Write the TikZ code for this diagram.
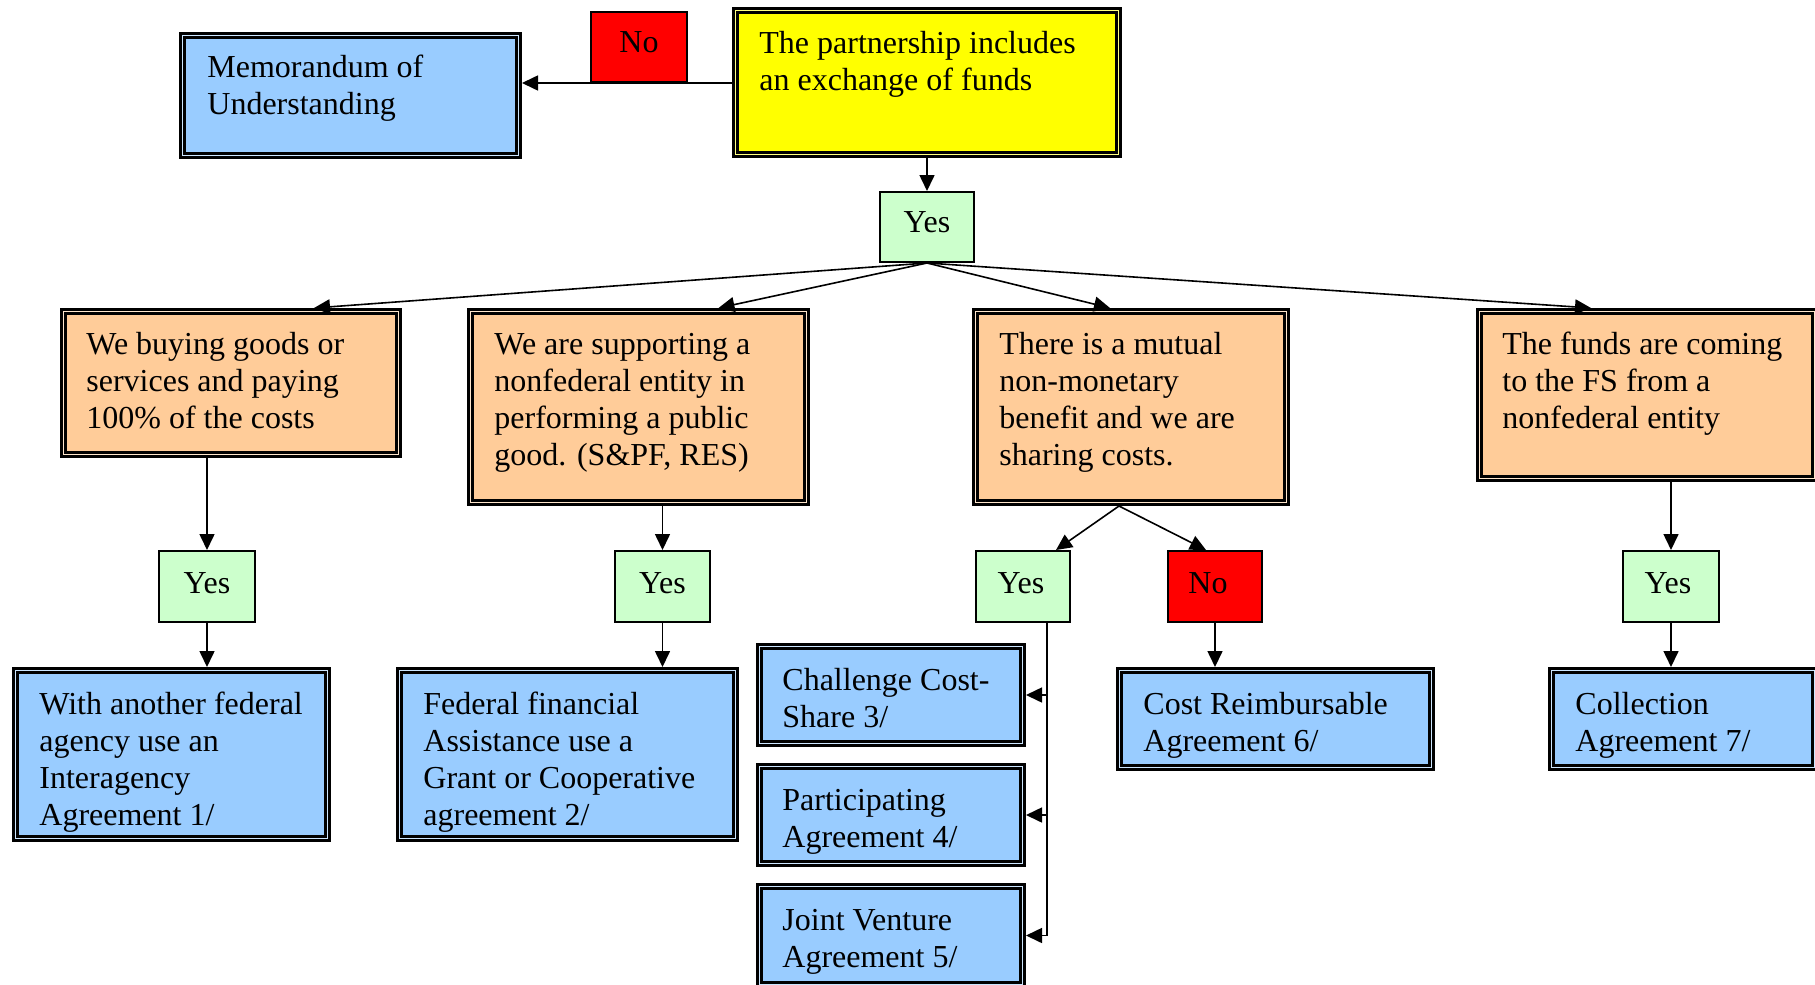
\documentclass[tikz,border=0pt]{standalone}
\usepackage{fontspec}
\setmainfont{Liberation Serif}
\usetikzlibrary{arrows.meta}
\definecolor{cyel}{HTML}{FFFF00}
\definecolor{cora}{HTML}{FFCC99}
\definecolor{cblu}{HTML}{99CCFF}
\definecolor{cgrn}{HTML}{CCFFCC}
\definecolor{cred}{HTML}{FF0000}
\tikzset{
  dblbox/.style={rectangle, draw=black, line width=1.3pt, double distance=0.9pt, outer sep=1.75pt, inner sep=0pt},
  sglbox/.style={rectangle, draw=black, line width=0.8pt, inner sep=0pt},
  ybox/.style={dblbox, fill=cyel, double=cyel!50!white},
  obox/.style={dblbox, fill=cora, double=cora!50!white},
  bbox/.style={dblbox, fill=cblu, double=cblu!50!white},
  gbox/.style={sglbox, fill=cgrn},
  rbox/.style={sglbox, fill=cred},
  txt/.style={anchor=base west, inner sep=0pt, font=\fontsize{16pt}{18.5pt}\selectfont},
  lbl/.style={anchor=base, inner sep=0pt, font=\fontsize{16pt}{18.5pt}\selectfont},
  arr/.style={line width=0.8pt, -{Triangle[length=8pt,width=7.5pt]}}
}
\newcommand\mkdbox[6]{\node[#2, minimum width={(#5-#3)*0.5pt-3.5pt}, minimum height={(#6-#4)*0.5pt-3.5pt}] (#1) at ({(#3+#5)/2},{(#4+#6)/2}) {};}
\newcommand\mksbox[6]{\node[#2, minimum width={(#5-#3)*0.5pt-0.8pt}, minimum height={(#6-#4)*0.5pt-0.8pt}] (#1) at ({(#3+#5)/2},{(#4+#6)/2}) {};}
\newcommand\mktxt[4]{\node[txt] (#1) at (#2,#3) {\begin{tabular}[t]{@{}l@{}}#4\end{tabular}};}
\begin{document}
\begin{tikzpicture}[x=0.5pt,y=-0.5pt]
\useasboundingbox (0,0) rectangle (1815,985);
% boxes
\mkdbox{mou}{bbox}{179}{32}{522}{159}
\mksbox{notop}{rbox}{590}{11}{688}{83}
\mkdbox{yel}{ybox}{732}{7}{1122}{158}
\mksbox{yestop}{gbox}{879}{191}{975}{263}
\mkdbox{o1}{obox}{60}{308}{402}{458}
\mkdbox{o2}{obox}{467}{308}{810}{506}
\mkdbox{o3}{obox}{972}{308}{1290}{506}
\mkdbox{o4}{obox}{1476}{308}{1818}{482}
\mksbox{y1}{gbox}{158}{550}{256}{623}
\mksbox{y2}{gbox}{614}{550}{711}{623}
\mksbox{y3}{gbox}{975}{550}{1071}{623}
\mksbox{n3}{rbox}{1167}{550}{1263}{623}
\mksbox{y4}{gbox}{1622}{550}{1720}{623}
\mkdbox{a1}{bbox}{12}{667}{331}{842}
\mkdbox{a2}{bbox}{396}{667}{739}{842}
\mkdbox{a3}{bbox}{756}{643}{1026}{747}
\mkdbox{a4}{bbox}{756}{763}{1026}{867}
\mkdbox{a5}{bbox}{756}{883}{1026}{988}
\mkdbox{a6}{bbox}{1116}{667}{1435}{771}
\mkdbox{a7}{bbox}{1548}{667}{1818}{771}
% texts
\mktxt{mou-t}{207}{77}{Memorandum of\\Understanding}
\mktxt{yel-t}{759}{54}{The partnership includes\\an exchange of funds}
\node[lbl] (notop-t) at (639,52) {No};
\node[lbl] (yestop-t) at (927,232) {Yes};
\mktxt{o1-t}{86}{354}{We buying goods or\\services and paying\\100\% of the costs}
\mktxt{o2-t}{494}{354}{We are supporting a\\nonfederal entity in\\performing a public\\good. (S\&PF, RES)}
\mktxt{o3-t}{999}{354}{There is a mutual\\non-monetary\\benefit and we are\\sharing costs.}
\mktxt{o4-t}{1502}{354}{The funds are coming\\to the FS from a\\nonfederal entity}
\node[lbl] (y1-t) at (207,593) {Yes};
\node[lbl] (y2-t) at (662.5,593) {Yes};
\node[lbl] (y3-t) at (1021,593) {Yes};
\node[lbl] (n3-t) at (1208,593) {No};
\node[lbl] (y4-t) at (1668,593) {Yes};
\mktxt{a1-t}{39}{714}{With another federal\\agency use an\\Interagency\\Agreement 1/}
\mktxt{a2-t}{423}{714}{Federal financial\\Assistance use a\\Grant or Cooperative\\agreement 2/}
\mktxt{a3-t}{782}{690}{Challenge Cost-\\Share 3/}
\mktxt{a4-t}{782}{810}{Participating\\Agreement 4/}
\mktxt{a5-t}{782}{930}{Joint Venture\\Agreement 5/}
\mktxt{a6-t}{1143}{714}{Cost Reimbursable\\Agreement 6/}
\mktxt{a7-t}{1575}{714}{Collection\\Agreement 7/}
% connectors
\draw[arr] (yel.west |- notop.south) -- (mou.east |- notop.south);
\draw[arr] (yestop.north |- yel.south) -- (yestop.north);
\draw[arr] (yestop.south) -- ([xshift=41.5pt]o1.north);
\draw[arr] (yestop.south) -- ([xshift=40pt]o2.north);
\draw[arr] (yestop.south) -- ([xshift=-10.5pt]o3.north);
\draw[arr] (yestop.south) -- ([xshift=-28pt]o4.north);
\draw[arr] (y1.north |- o1.south) -- (y1.north);
\draw[arr] (y1.south) -- (y1.south |- a1.north);
\draw[arr] (y2.north |- o2.south) -- (y2.north);
\draw[arr] (y2.south) -- (y2.south |- a2.north);
\draw[arr] ([xshift=-6pt]o3.south) -- ([xshift=16.5pt]y3.north);
\draw[arr] ([xshift=-6pt]o3.south) -- ([xshift=-4.5pt]n3.north);
\draw[arr] ([xshift=12pt]y3.south) |- (a3.east);
\draw[arr] ([xshift=12pt]y3.south) |- (a4.east);
\draw[arr] ([xshift=12pt]y3.south) |- (a5.east);
\draw[arr] (n3.south) -- (n3.south |- a6.north);
\draw[arr] (y4.north |- o4.south) -- (y4.north);
\draw[arr] (y4.south) -- (y4.south |- a7.north);
\end{tikzpicture}
\end{document}
